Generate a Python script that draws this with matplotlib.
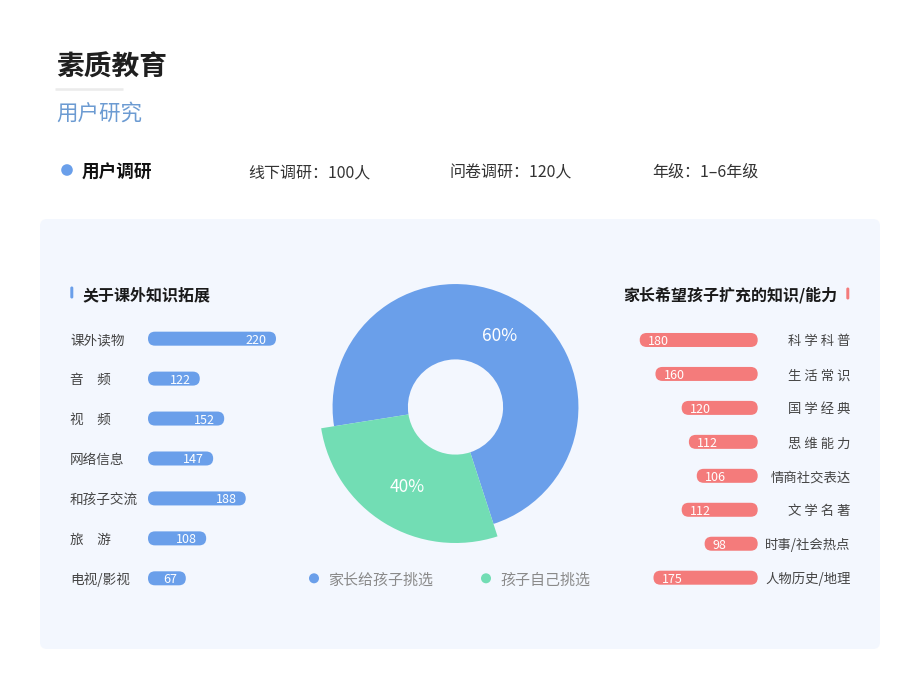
import matplotlib
matplotlib.use('Agg')
import matplotlib.pyplot as plt
from matplotlib.patches import FancyBboxPatch, Circle
from matplotlib.transforms import blended_transform_factory
import numpy as np

plt.rcParams['font.family'] = ['Noto Sans CJK SC', 'DejaVu Sans']

# ---------------- data ----------------
title = '素质教育'
subtitle = '用户研究'
survey_head = '用户调研'
survey_items = ['线下调研：100人', '问卷调研：120人', '年级：1–6年级']

left_title = '关于课外知识拓展'
left_cats = ['课外读物', '音　频', '视　频', '网络信息', '和孩子交流', '旅　游', '电视/影视']
left_values = [220, 122, 152, 147, 188, 108, 67]          # printed numbers
left_drawn = [220, 89, 131, 112, 168, 100, 65]            # bar lengths as drawn

right_title = '家长希望孩子扩充的知识/能力'
right_cats = ['科 学 科 普', '生 活 常 识', '国 学 经 典', '思 维 能 力',
              '情商社交表达', '文 学 名 著', '时事/社会热点', '人物历史/地理']
right_values = [180, 160, 120, 112, 106, 112, 98, 175]    # printed numbers
right_drawn = [180, 156, 116, 105, 93, 116, 81, 159]      # bar lengths as drawn

pie_names = ['家长给孩子挑选', '孩子自己挑选']
pie_labels = ['60%', '40%']
pie_shares = [72.5, 27.5]          # angular shares as drawn
pie_radii = [0.904, 1.0]           # relative outer radius per slice
pie_hole = 0.35

# ---------------- style ----------------
BLUE = '#6A9FEA'
GREEN = '#72DDB4'
RED = '#F47B7B'
PANEL = '#F3F7FE'
W, H = 920, 690
VA = 'center_baseline'

fig = plt.figure(figsize=(W / 100, H / 100), dpi=100)
fig.patch.set_facecolor('white')
bg = fig.add_axes([0, 0, 1, 1])
bg.set_xlim(0, W)
bg.set_ylim(H, 0)
bg.axis('off')


def rect(x, y, w, h):
    return [x / W, 1 - (y + h) / H, w / W, h / H]


# header
bg.text(56, 64.5, title, fontsize=20, weight='bold', color='#1f1f1f', va=VA, ha='left')
bg.plot([55, 123], [88.5, 88.5], color='#EBEBEB', lw=1.8, solid_capstyle='butt')
bg.text(56, 111, subtitle, fontsize=15.5, color='#6C9BD2', va=VA, ha='left')

bg.add_patch(Circle((67, 170), 5.8, color=BLUE, lw=0))
bg.text(82, 170.5, survey_head, fontsize=12.7, weight='bold', color='#111111', va=VA, ha='left')
for xpos, s in zip([248, 450, 652], survey_items):
    bg.text(xpos, 170.5, s, fontsize=11.5, color='#333333', va=VA, ha='left')

# panel
bg.add_patch(FancyBboxPatch((40, 219), 840, 430, boxstyle='round,pad=0,rounding_size=7',
                            fc=PANEL, ec='none'))

# section headings
bg.add_patch(FancyBboxPatch((70.3, 286.5), 3, 12, boxstyle='round,pad=0,rounding_size=1.5',
                            fc=BLUE, ec='none'))
bg.text(82, 293.5, left_title, fontsize=11.5, weight='bold', color='#1a1a1a', va=VA, ha='left')
bg.add_patch(FancyBboxPatch((846.3, 287.5), 3, 12, boxstyle='round,pad=0,rounding_size=1.5',
                            fc=RED, ec='none'))
bg.text(837.5, 293.5, right_title, fontsize=11.5, weight='bold', color='#1a1a1a', va=VA, ha='right')


def bar_panel(x_left, x_right, y_top, row_h, drawn, values, invert, color, bar_h_px=14):
    n = len(drawn)
    ax = fig.add_axes(rect(x_left, y_top, x_right - x_left, row_h * n))
    xmax = max(drawn)
    ax.set_xlim((xmax, 0) if invert else (0, xmax))
    ax.set_ylim(n - 0.5, -0.5)
    ax.axis('off')
    xu = xmax / (x_right - x_left)
    yu = 1.0 / row_h
    bars = ax.barh(np.arange(n), drawn, height=bar_h_px * yu, color='none')
    for b, v in zip(bars, values):
        p = FancyBboxPatch((b.get_x(), b.get_y()), b.get_width(), b.get_height(),
                           boxstyle=f'round,pad=0,rounding_size={bar_h_px / 2 * xu}',
                           mutation_aspect=yu / xu, fc=color, ec='none', clip_on=False)
        ax.add_patch(p)
        b.set_visible(False)
        yc = b.get_y() + b.get_height() / 2
        ax.annotate(str(v), (b.get_width(), yc), xytext=((6 if invert else -6.5), 0),
                    textcoords='offset points', ha=('left' if invert else 'right'),
                    va=VA, color='white', fontsize=9, annotation_clip=False)
    return ax


axL = bar_panel(148, 276, 318.7, 39.94, left_drawn, left_values, False, BLUE)
trL = blended_transform_factory(bg.transData, axL.transData)
for i, c in enumerate(left_cats):
    axL.text(70, i, c, transform=trL, ha='left', va=VA, fontsize=9.8, color='#444444')

axR = bar_panel(639.7, 757.7, 323.0, 33.96, right_drawn, right_values, True, RED)
trR = blended_transform_factory(bg.transData, axR.transData)
for i, c in enumerate(right_cats):
    axR.text(850.5, i, c, transform=trR, ha='right', va=VA, fontsize=9.6, color='#444444')

# donut / rose
R = 136
pax = fig.add_axes(rect(455.5 - R, 407 - R, 2 * R, 2 * R))
wedges, _ = pax.pie(pie_shares, startangle=-72, colors=[BLUE, GREEN], radius=1,
                    counterclock=True, wedgeprops=dict(width=1 - pie_hole, linewidth=0))
pax.set_xlim(-1, 1)
pax.set_ylim(-1, 1)
pax.set_aspect('equal')
pax.axis('off')
for w, r, lab in zip(wedges, pie_radii, pie_labels):
    w.set_radius(r)
    w.set_width(r - pie_hole)
    mid = np.deg2rad((w.theta1 + w.theta2) / 2)
    rr = (pie_hole + r) / 2
    pax.text(rr * np.cos(mid), rr * np.sin(mid), lab, ha='center', va=VA,
             color='white', fontsize=12.5)

# pie legend
for (xd, xt), name, col in zip([(314, 328), (486, 500)], pie_names, [BLUE, GREEN]):
    bg.add_patch(Circle((xd, 578.3), 5, color=col, lw=0))
    bg.text(xt, 578.8, name, fontsize=10.8, color='#8a8a8a', va=VA, ha='left')

fig.savefig('out.png', dpi=100, facecolor='white')
